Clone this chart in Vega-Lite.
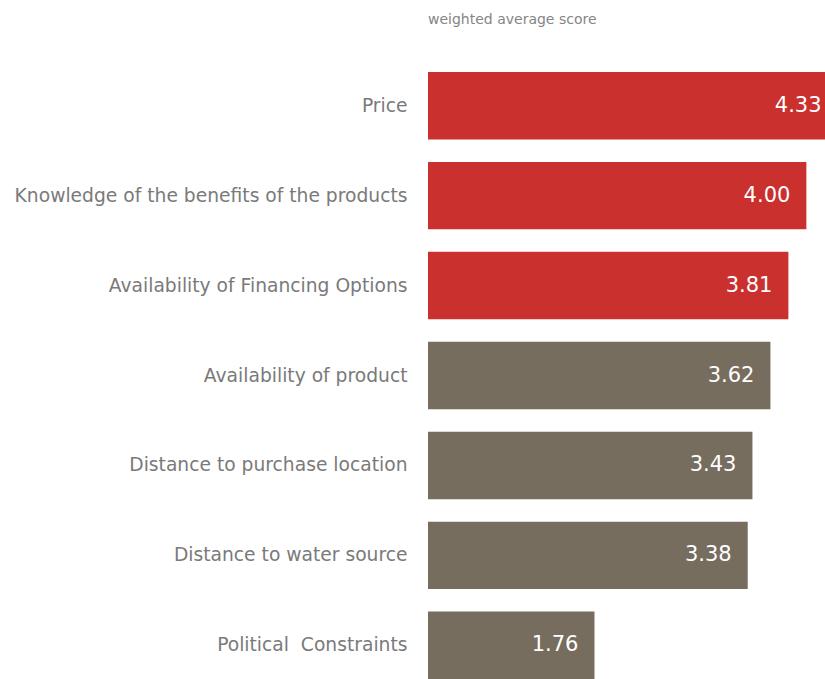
{
  "$schema": "https://vega.github.io/schema/vega-lite/v6.json",
  "autosize": "none",
  "padding": {"left": 428, "top": 72, "right": 0, "bottom": 0},
  "width": 397,
  "height": 607,
  "background": "white",
  "title": {
    "text": "weighted average score",
    "anchor": "start",
    "frame": "group",
    "font": "DejaVu Sans",
    "fontSize": 14,
    "fontWeight": "normal",
    "color": "#858585",
    "offset": 45
  },
  "data": {
    "values": [
      {"factor": "Price", "score": 4.33, "group": "top"},
      {"factor": "Knowledge of the benefits of the products", "score": 4.00, "group": "top"},
      {"factor": "Availability of Financing Options", "score": 3.81, "group": "top"},
      {"factor": "Availability of product", "score": 3.62, "group": "other"},
      {"factor": "Distance to purchase location", "score": 3.43, "group": "other"},
      {"factor": "Distance to water source", "score": 3.38, "group": "other"},
      {"factor": "Political\u00a0 Constraints", "score": 1.76, "group": "other"}
    ]
  },
  "encoding": {
    "y": {
      "field": "factor",
      "type": "nominal",
      "sort": null,
      "scale": {"paddingInner": 0.25, "paddingOuter": 0},
      "axis": {
        "title": null,
        "domain": false,
        "ticks": false,
        "labelPadding": 21,
        "labelFont": "DejaVu Sans",
        "labelFontSize": 18.7,
        "labelColor": "#7a7a7a",
        "labelLimit": 500
      }
    },
    "x": {
      "field": "score",
      "type": "quantitative",
      "scale": {"domain": [0, 4.197], "nice": false, "zero": true},
      "axis": null
    }
  },
  "layer": [
    {
      "mark": {"type": "bar", "clip": true},
      "encoding": {
        "color": {
          "field": "group",
          "type": "nominal",
          "scale": {"domain": ["top", "other"], "range": ["#c9302e", "#766d5f"]},
          "legend": null
        }
      }
    },
    {
      "mark": {
        "type": "text",
        "align": "right",
        "baseline": "middle",
        "dx": -16,
        "font": "DejaVu Sans",
        "fontSize": 21,
        "color": "white"
      },
      "encoding": {
        "text": {"field": "score", "type": "quantitative", "format": ".2f"}
      }
    }
  ],
  "config": {
    "view": {"stroke": null},
    "axis": {"grid": false}
  }
}
